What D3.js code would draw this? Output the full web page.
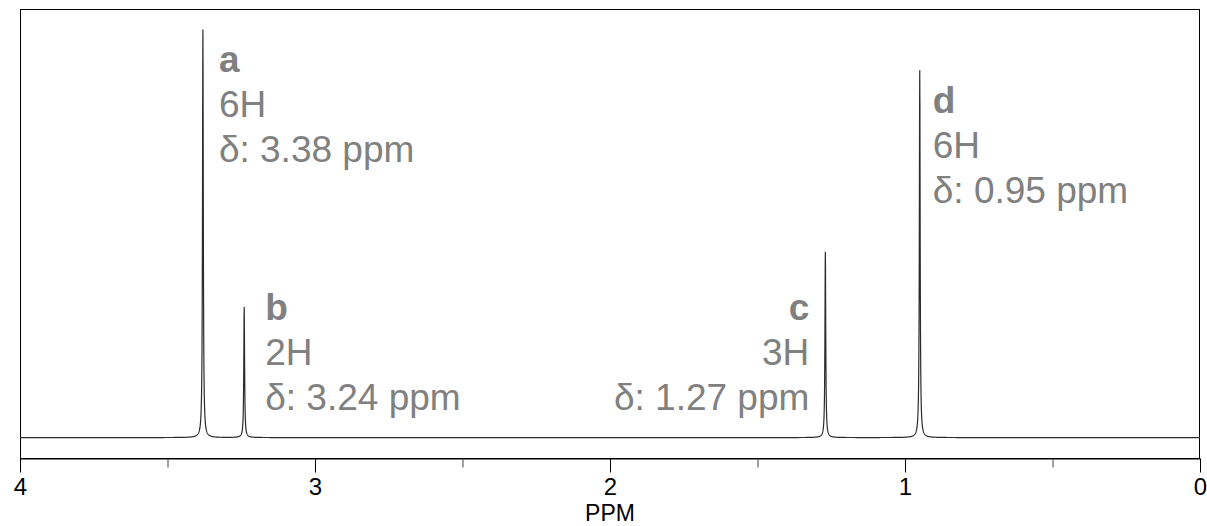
<!DOCTYPE html>
<html>
<head>
<meta charset="utf-8">
<script src="https://cdn.jsdelivr.net/npm/d3@7"></script>
<style>
  body { margin: 0; background: #fff; }
  svg text { font-family: "Liberation Sans", Arial, sans-serif; }
</style>
</head>
<body>
<div id="chart"></div>
<script>
// peak data
const peakLabels = ["a", "b", "c", "d"];
const peakProtons = ["6H", "2H", "3H", "6H"];
const peakShifts = [3.38, 3.24, 1.27, 0.95];
const peakHeights = [1.0, 0.32, 0.455, 0.90];
const peakHalfWidth = 0.0016;

const majorTicks = [4, 3, 2, 1, 0];
const minorTicks = [3.5, 2.5, 1.5, 0.5];
const xLabel = "PPM";

const width = 1207, height = 526;
const margin = { top: 9, right: 7, bottom: 68, left: 20 };

const svg = d3.select("#chart").append("svg")
    .attr("width", width)
    .attr("height", height);

const x = d3.scaleLinear().domain([4, 0]).range([margin.left, width - margin.right]);
const y = d3.scaleLinear().domain([-0.05, 1.05]).range([height - margin.bottom, margin.top]);

// frame
svg.append("rect")
    .attr("x", x(4) + 0.5).attr("y", margin.top + 0.5)
    .attr("width", x(0) - x(4) - 1).attr("height", y(-0.05) - margin.top)
    .attr("fill", "none").attr("stroke", "#000").attr("stroke-width", 1);

// spectrum line: lorentzian lineshape for each peak
const step = 0.0005;
const spectrum = d3.range(0, 4 + step / 2, step).map(p => {
    let v = 0;
    peakShifts.forEach((s, i) => {
        const d = p - s;
        v += peakHeights[i] * peakHalfWidth * peakHalfWidth / (d * d + peakHalfWidth * peakHalfWidth);
    });
    return { ppm: p, v: v };
});

svg.append("path")
    .datum(spectrum)
    .attr("fill", "none")
    .attr("stroke", "#2b2b2b")
    .attr("stroke-width", 1.2)
    .attr("d", d3.line().x(d => x(d.ppm)).y(d => y(d.v)));

// axes
const axisY = y(-0.05) + 0.5;
const xAxis = svg.append("g")
    .attr("transform", `translate(0,${axisY})`)
    .call(d3.axisBottom(x).tickValues(majorTicks).tickFormat(d3.format("d")).tickSizeInner(14).tickSizeOuter(0).tickPadding(5));
xAxis.select(".domain").attr("stroke", "#000");
xAxis.selectAll("text").attr("font-size", 24).attr("fill", "#000")
    .style("font-family", "'Liberation Sans', Arial, sans-serif");

svg.append("g")
    .attr("transform", `translate(0,${axisY})`)
    .call(d3.axisBottom(x).tickValues(minorTicks).tickFormat("").tickSizeInner(9).tickSizeOuter(0))
    .call(g => g.select(".domain").remove())
    .selectAll("line").attr("stroke", "#444");

svg.append("text")
    .attr("x", (x(4) + x(0)) / 2)
    .attr("y", 521)
    .attr("text-anchor", "middle")
    .attr("font-size", 23)
    .attr("fill", "#000")
    .text(xLabel);

// peak annotations
const labelOffsets = [16, 21, -16, 13];
const labelTops = [72, 320, 320, 113];
const lineGap = 45;

peakShifts.forEach((s, i) => {
    const g = svg.append("text")
        .attr("font-size", 37)
        .attr("fill", "#808080")
        .attr("text-anchor", labelOffsets[i] < 0 ? "end" : "start");
    const tx = x(s) + labelOffsets[i];
    g.append("tspan").attr("x", tx).attr("y", labelTops[i]).attr("font-weight", "bold").text(peakLabels[i]);
    g.append("tspan").attr("x", tx).attr("y", labelTops[i] + lineGap).text(peakProtons[i]);
    g.append("tspan").attr("x", tx).attr("y", labelTops[i] + 2 * lineGap).text("δ: " + s.toFixed(2) + " ppm");
});
</script>
</body>
</html>
